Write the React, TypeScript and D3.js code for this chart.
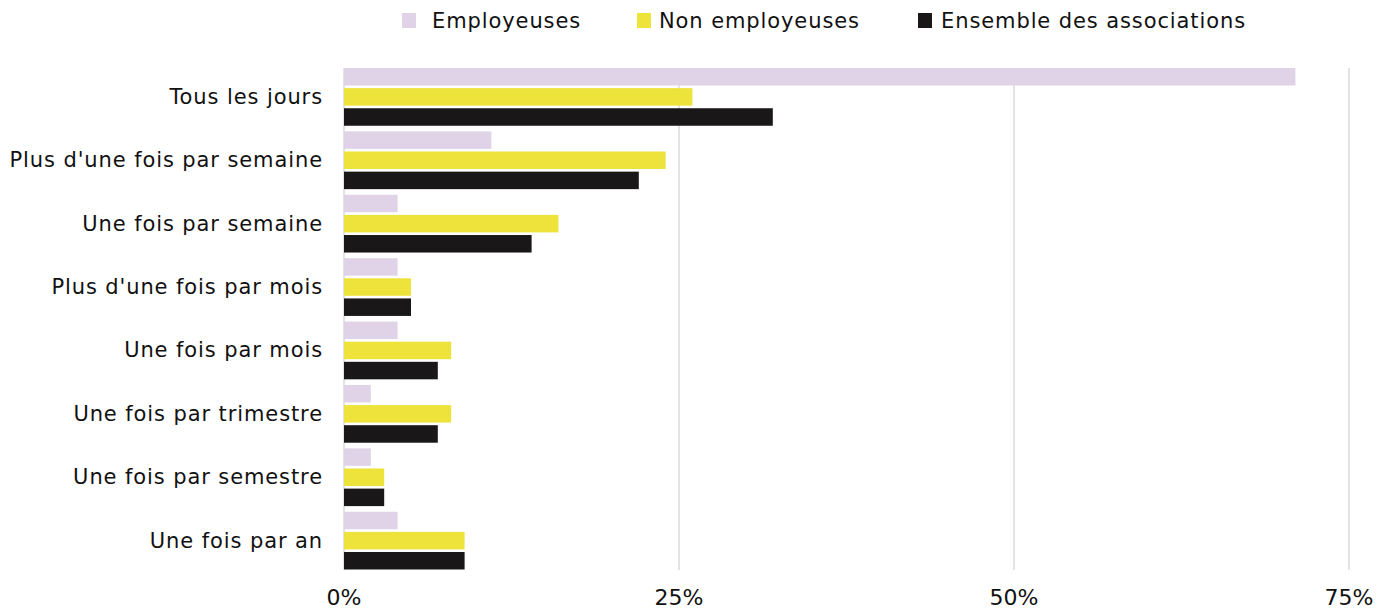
import React from "react";
import * as d3 from "d3";

const categories = [
  "Tous les jours",
  "Plus d'une fois par semaine",
  "Une fois par semaine",
  "Plus d'une fois par mois",
  "Une fois par mois",
  "Une fois par trimestre",
  "Une fois par semestre",
  "Une fois par an",
];
const seriesNames = ["Employeuses", "Non employeuses", "Ensemble des associations"];
const employeuses = [71, 11, 4, 4, 4, 2, 2, 4];
const nonEmployeuses = [26, 24, 16, 5, 8, 8, 3, 9];
const ensemble = [32, 22, 14, 5, 7, 7, 3, 9];
const seriesColors = ["#e0d3e8", "#ede33b", "#1a1718"];
const xTicks = [0, 25, 50, 75];

const W = 1390;
const H = 609;
const FONT = "'DejaVu Sans', sans-serif";

export default function App() {
  const allSeries = [employeuses, nonEmployeuses, ensemble];
  const x = d3.scaleLinear().domain([0, 75]).range([344, 1349]);
  const y = d3.scaleBand<string>().domain(categories).range([68, 569.5]).paddingInner(0.089).paddingOuter(0);
  const inner = d3.scaleBand<string>().domain(seriesNames).range([0, y.bandwidth()]).paddingInner(0.13);

  const legendItems = [
    { sq: 402, tx: 432 },
    { sq: 637, tx: 659 },
    { sq: 918, tx: 941 },
  ];

  return (
    <svg width={W} height={H} style={{ display: "block", position: "absolute", left: 0, top: 0 }}>
      <rect width={W} height={H} fill="#ffffff" />
      {xTicks.map((t) => (
        <line key={t} x1={x(t)} x2={x(t)} y1={68} y2={570} stroke="#c8c8c8" strokeWidth={1} />
      ))}
      {categories.map((c, i) => (
        <g key={c}>
          {allSeries.map((s, j) => (
            <rect
              key={j}
              x={x(0)}
              y={(y(c) as number) + (inner(seriesNames[j]) as number)}
              width={x(s[i]) - x(0)}
              height={inner.bandwidth()}
              fill={seriesColors[j]}
            />
          ))}
          <text
            x={323}
            y={(y(c) as number) + y.bandwidth() / 2}
            textAnchor="end"
            dominantBaseline="central"
            fontFamily={FONT}
            fontSize={21}
            letterSpacing={0.9}
            fill="#111"
          >
            {c}
          </text>
        </g>
      ))}
      {xTicks.map((t) => (
        <text key={t} x={x(t)} y={597} textAnchor="middle" dominantBaseline="central" fontFamily={FONT} fontSize={22} fill="#111">
          {t}%
        </text>
      ))}
      {seriesNames.map((n, j) => (
        <g key={n}>
          <rect x={legendItems[j].sq} y={13} width={14} height={15} fill={seriesColors[j]} />
          <text x={legendItems[j].tx} y={21} dominantBaseline="central" fontFamily={FONT} fontSize={21} letterSpacing={0.9} fill="#111">
            {n}
          </text>
        </g>
      ))}
    </svg>
  );
}
